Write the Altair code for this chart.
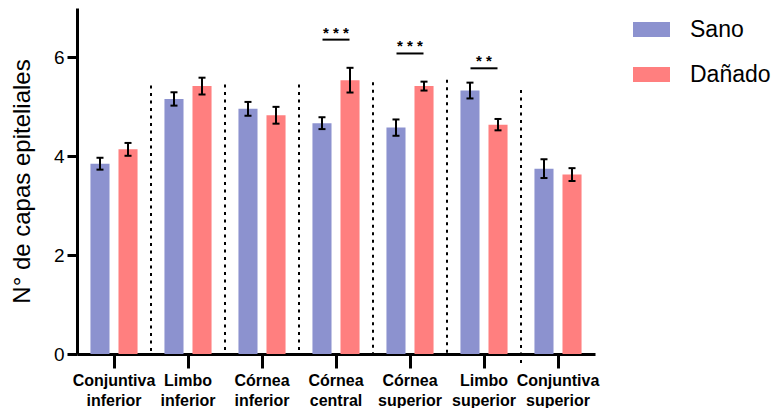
import altair as alt
import pandas as pd

cats = ["Conjuntiva inferior", "Limbo inferior", "Córnea inferior", "Córnea central",
        "Córnea superior", "Limbo superior", "Conjuntiva superior"]
series = ["Sano", "Dañado"]
colors = ["#8C92CF", "#FF7F7F"]

sano = [3.85, 5.16, 4.96, 4.67, 4.58, 5.33, 3.75]
sano_err = [0.12, 0.135, 0.14, 0.12, 0.165, 0.16, 0.19]
danado = [4.14, 5.42, 4.83, 5.54, 5.42, 4.64, 3.63]
danado_err = [0.13, 0.17, 0.17, 0.25, 0.09, 0.115, 0.13]

sep_cats = cats[1:]
sep_top = [5.43, 5.45, 5.45, 5.5, 5.55, 5.34]
sep_bottom = [0, 0, 0, 0, 0, -0.18]

sig_cats = ["Córnea central", "Córnea superior", "Limbo superior"]
sig_y = [6.36, 6.08, 5.78]
sig_lbl = ["* * *", "* * *", "* *"]

rows = []
for i, c in enumerate(cats):
    rows.append(dict(cat=c, serie="Sano", val=sano[i],
                     lo=sano[i] - sano_err[i], hi=sano[i] + sano_err[i]))
    rows.append(dict(cat=c, serie="Dañado", val=danado[i],
                     lo=danado[i] - danado_err[i], hi=danado[i] + danado_err[i]))
df = pd.DataFrame(rows)
sep_df = pd.DataFrame(dict(cat=sep_cats, top=sep_top, bottom=sep_bottom))
sig_df = pd.DataFrame(dict(cat=sig_cats, y=sig_y, lbl=sig_lbl))

FONT = "Liberation Sans"

xscale = alt.Scale(domain=cats, paddingInner=0, paddingOuter=0)
xaxis = alt.Axis(title=None, labelAngle=0, labelAlign="center", labelFontSize=16,
                 labelFontWeight="bold",
                 labelExpr="split(datum.label, ' ')", labelLineHeight=20,
                 tickSize=14, tickWidth=3, tickColor="black", domainWidth=3,
                 domainColor="black", labelPadding=12, labelColor="black",
                 labelFont=FONT, labelOverlap=False, labelBound=False)
xenc = alt.X("cat:N", sort=cats, scale=xscale, axis=xaxis)
xoff = alt.XOffset("serie:N", sort=series,
                   scale=alt.Scale(domain=series, paddingInner=0.32, paddingOuter=0.48))
yscale = alt.Scale(domain=[0, 7], nice=False, zero=True)
yaxis = alt.Axis(title="N° de capas epiteliales", values=[0, 2, 4, 6], grid=False,
                 tickSize=10, tickWidth=3, tickColor="black", domainWidth=3,
                 domainColor="black", labelFontSize=19, labelColor="black",
                 labelPadding=3, titleFontSize=24, titleFontWeight="normal",
                 titleColor="black", titlePadding=19, labelFont=FONT, titleFont=FONT)

base = alt.Chart(df)

bars = base.mark_bar().encode(
    x=xenc,
    xOffset=xoff,
    y=alt.Y("val:Q", scale=yscale, axis=yaxis),
    color=alt.Color("serie:N", sort=series,
                    scale=alt.Scale(domain=series, range=colors),
                    legend=alt.Legend(title=None, orient="none", legendX=556, legendY=3,
                                      symbolType="M-1,-0.405H1V0.405H-1Z", symbolSize=1369,
                                      symbolStrokeWidth=0, labelFontSize=23,
                                      labelFont=FONT, labelColor="black",
                                      labelOffset=20, rowPadding=14)),
)

err = base.mark_rule(color="black", strokeWidth=2).encode(
    x=xenc, xOffset=xoff, y=alt.Y("lo:Q", scale=yscale), y2="hi:Q"
)

caps = base.transform_fold(["lo", "hi"], as_=["k", "v"]).mark_tick(
    color="black", thickness=2, size=7, opacity=1
).encode(x=xenc, xOffset=xoff, y=alt.Y("v:Q", scale=yscale))

seps = alt.Chart(sep_df).mark_rule(color="black", strokeWidth=2, strokeDash=[3, 4.5]).encode(
    x=alt.X("cat:N", sort=cats, scale=xscale, bandPosition=0),
    y=alt.Y("top:Q", scale=yscale),
    y2="bottom:Q",
)

sig_line = alt.Chart(sig_df).mark_tick(color="black", thickness=2, size=27, opacity=1).encode(
    x=alt.X("cat:N", sort=cats, scale=xscale), y=alt.Y("y:Q", scale=yscale)
)
sig_txt = alt.Chart(sig_df).mark_text(
    fontSize=15, font=FONT, fontWeight="bold", color="black", baseline="alphabetic", dy=-2
).encode(x=alt.X("cat:N", sort=cats, scale=xscale), y=alt.Y("y:Q", scale=yscale), text="lbl:N")

chart = alt.layer(seps, bars, err, caps, sig_line, sig_txt).properties(
    width=518, height=346, padding={"left": 2, "top": 0, "right": 0, "bottom": 0},
    background="white"
).configure_view(stroke=None)

chart.save("out.html", embed_options={"renderer": "svg", "actions": False})
